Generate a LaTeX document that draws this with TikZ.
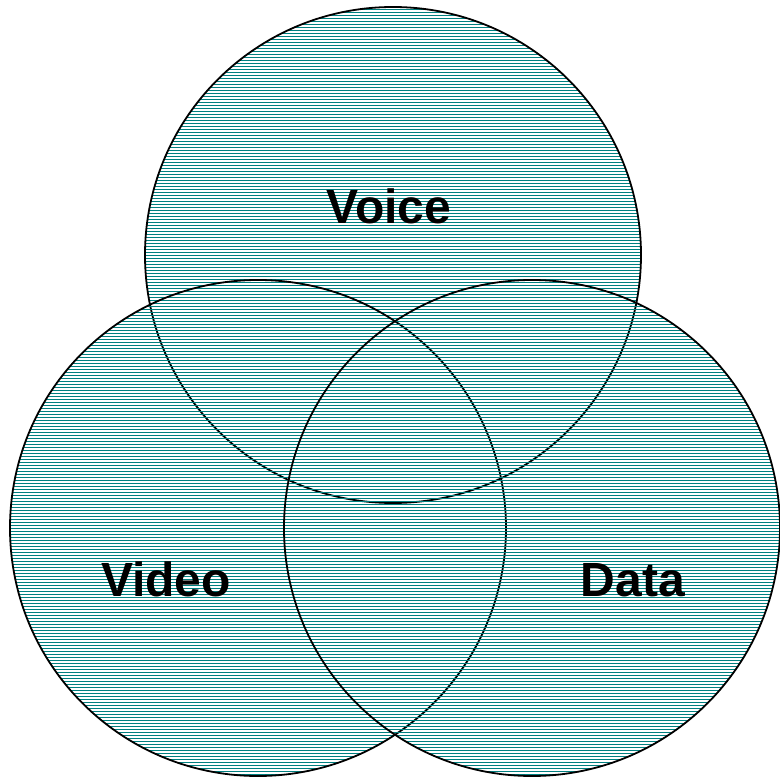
\documentclass[tikz,border=0pt]{standalone}
\usepackage{fontspec}
\setmainfont{Liberation Sans}
\usetikzlibrary{patterns}

\pgfdeclarepatternformonly{hatchlines}{\pgfpoint{-1pt}{0pt}}{\pgfpoint{1001pt}{3pt}}{\pgfpoint{1000pt}{3pt}}{%
  \pgfsetlinewidth{1pt}%
  \pgfpathmoveto{\pgfpoint{-1pt}{0.5pt}}%
  \pgfpathlineto{\pgfpoint{1001pt}{0.5pt}}%
  \pgfusepath{stroke}}

\begin{document}
\begin{tikzpicture}[x=1pt,y=-1pt]
\tikzstyle{venn}=[circle,draw,line width=1.8pt,inner sep=0pt,minimum size=496pt,pattern=hatchlines,pattern color=teal]
\tikzstyle{venn_label}=[anchor=base,inner sep=0pt,font=\fontsize{48}{58}\selectfont\bfseries]
\useasboundingbox (0,0) rectangle (780,778);
\node[venn] (voice) at (393,255){};
\node[venn] (video) at (258,528){};
\node[venn] (data)  at (532,528){};
\node[venn_label] (voice_felirat) at (389,224){Voice};
\node[venn_label] (video_felirat) at (166,596){Video};
\node[venn_label] (data_felirat)  at (633,596){Data};
\end{tikzpicture}
\end{document}
